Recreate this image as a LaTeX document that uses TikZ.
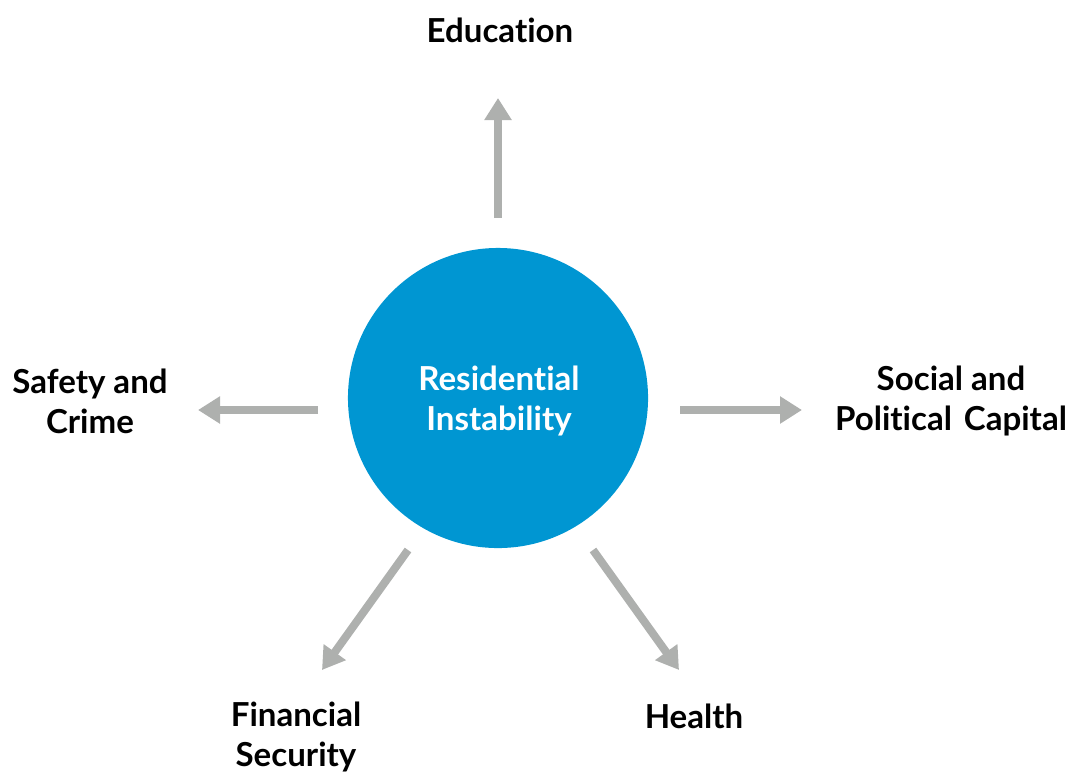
\documentclass[tikz,border=0pt]{standalone}
\usepackage{fontspec}
\setmainfont{Lato}[Ligatures=NoCommon]
\usepackage{xcolor}
\usepackage{tikz}
\usetikzlibrary{arrows.meta, positioning}
\definecolor{instblue}{RGB}{0, 150, 210}
\definecolor{arrowgray}{RGB}{174, 176, 174}

\begin{document}
\begin{tikzpicture}[x=0.025cm, y=-0.025cm,
    outcome/.style={align=center, font=\fontsize{23.5}{28.5}\selectfont\bfseries, text=black},
    effect/.style={draw=arrowgray, line width=0.2cm, -{Triangle[width=0.65cm, length=0.55cm]}}]
    \useasboundingbox (0,0) rectangle (1070,772);

    % The central cause
    \node[circle, fill=instblue, minimum size=7.5cm, inner sep=0pt] (instability) at (498,398) {};
    \node[font=\fontsize{23.5}{28.5}\selectfont\bfseries, text=white, align=center]
        (cause) at (499,401) {Residential\\Instability};

    % The outcomes
    \node[outcome] (education) at (500,30) {Education};
    \node[outcome] (safety) at (90,401) {Safety and\\Crime};
    \node[outcome] (capital) at (951,401) {Social and\\Political\hspace{0.36em}Capital};
    \node[outcome] (financial) at (296,737) {Financial\\Security};
    \node[outcome] (health) at (694,716) {Health};

    % Arrow ends
    \coordinate (eduS) at (498,218);
    \coordinate (eduE) at (498,98);
    \coordinate (safS) at (318,410);
    \coordinate (safE) at (198,410);
    \coordinate (capS) at (680,410);
    \coordinate (capE) at (802,410);
    \coordinate (finS) at (408,550);
    \coordinate (finE) at (322,670);
    \coordinate (heaS) at (593,550);
    \coordinate (heaE) at (679,670);

    % The arrows
    \draw[effect] (eduS) -- (eduE);
    \draw[effect] (safS) -- (safE);
    \draw[effect] (capS) -- (capE);
    \draw[effect] (finS) -- (finE);
    \draw[effect] (heaS) -- (heaE);
\end{tikzpicture}
\end{document}
